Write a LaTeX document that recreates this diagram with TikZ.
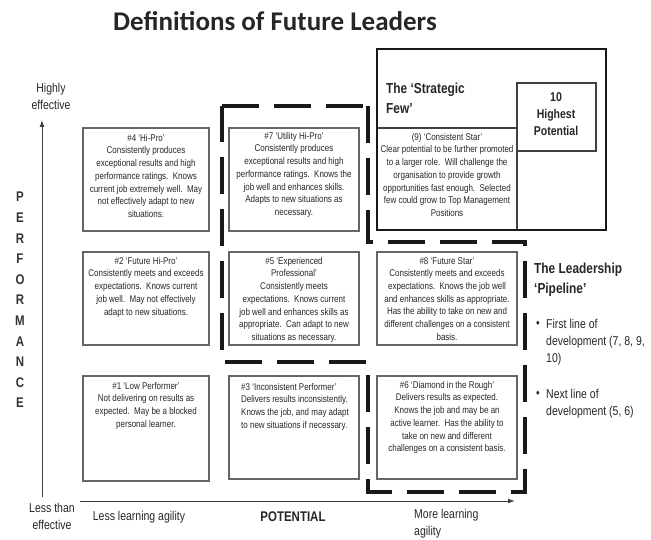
\documentclass[tikz,border=0pt]{standalone}
\usepackage{fontspec}
\setmainfont{Liberation Sans}
\newfontfamily\nar[FakeStretch=0.82]{Liberation Sans}
\newfontfamily\titlefont{Carlito}
\usetikzlibrary{arrows.meta}
\begin{document}
\begin{tikzpicture}[x=1pt,y=-1pt,
  cellbox/.style={draw=black!60, line width=1.2pt},
  celltext/.style={font=\nar\fontsize{9.75}{12.7}\selectfont, text=black!85, align=center, anchor=north, inner sep=0pt},
  pipe/.style={line width=4pt, dash pattern=on 37pt off 15pt, black!90},
  axis/.style={line width=1pt, black!75, -{Latex[length=7pt,width=5pt]}},
  lab/.style={font=\nar\fontsize{12.8}{17}\selectfont, text=black!85, inner sep=0pt},
  head/.style={font=\nar\bfseries\fontsize{14.5}{20}\selectfont, text=black!85, inner sep=0pt}]
\useasboundingbox (0,0) rectangle (651,540);

% title
\node[font=\titlefont\bfseries\fontsize{27}{30}\selectfont, text=black!85, inner sep=0pt] (title) at (275,21) {Definitions of Future Leaders};

% axes
\coordinate (yb) at (42,497); \coordinate (yt) at (42,120);
\coordinate (xl) at (80,501); \coordinate (xr) at (515,501);
\draw[axis] (yb) -- (yt);
\draw[axis] (xl) -- (xr);
\node[lab, align=center] (hi) at (51,96) {Highly\\effective};
\node[lab, align=center] (lt) at (52,516) {Less than\\effective};
\node[font=\nar\bfseries\fontsize{14}{20.6}\selectfont, text=black!80, align=center, inner sep=0pt] (perf) at (20,300) {P\\E\\R\\F\\O\\R\\M\\A\\N\\C\\E};
\node[lab] (lla) at (139,517) {Less learning agility};
\node[lab, font=\nar\bfseries\fontsize{14}{17}\selectfont] (pot) at (293,517) {POTENTIAL};
\node[lab, align=left, anchor=west] (mla) at (414,524) {More learning\\agility};

% cells
\draw[cellbox] (83,128) rectangle (209,231);
\node[celltext] (t4) at (146,134) {\#4 ‘Hi-Pro’\\Consistently produces\\exceptional results and high\\performance ratings.\ \ Knows\\current job extremely well.\ \ May\\not effectively adapt to new\\situations.};
\draw[cellbox] (229,128) rectangle (359,231);
\node[celltext] (t7) at (294,132) {\#7 ‘Utility Hi-Pro’\\Consistently produces\\exceptional results and high\\performance ratings.\ \ Knows the\\job well and enhances skills.\\Adapts to new situations as\\necessary.};
\draw[cellbox] (83,252) rectangle (209,345);
\node[celltext] (t2) at (146,257) {\#2 ‘Future Hi-Pro’\\Consistently meets and exceeds\\expectations.\ \ Knows current\\job well.\ \ May not effectively\\adapt to new situations.};
\draw[cellbox] (229,252) rectangle (359,345);
\node[celltext] (t5) at (294,257) {\#5 ‘Experienced\\Professional’\\Consistently meets\\expectations.\ \ Knows current\\job well and enhances skills as\\appropriate.\ \ Can adapt to new\\situations as necessary.};
\draw[cellbox] (377,252) rectangle (517,345);
\node[celltext] (t8) at (447,257) {\#8 ‘Future Star’\\Consistently meets and exceeds\\expectations.\ \ Knows the job well\\and enhances skills as appropriate.\\Has the ability to take on new and\\different challenges on a consistent\\basis.};
\draw[cellbox] (83,376) rectangle (209,481);
\node[celltext] (t1) at (146,382) {\#1 ‘Low Performer’\\Not delivering on results as\\expected.\ \ May be a blocked\\personal learner.};
\draw[cellbox] (229,376) rectangle (359,479);
\node[celltext, align=left, anchor=north west] (t3) at (241,383) {\#3 ‘Inconsistent Performer’\\Delivers results inconsistently.\\Knows the job, and may adapt\\to new situations if necessary.};
\draw[cellbox] (377,376) rectangle (517,479);
\node[celltext] (t6) at (447,381) {\#6 ‘Diamond in the Rough’\\Delivers results as expected.\\Knows the job and may be an\\active learner.\ \ Has the ability to\\take on new and different\\challenges on a consistent basis.};

% strategic few
\draw[line width=1.2pt, black!75] (377,128) -- (517,128);
\draw[line width=1.2pt, black!75] (517,83) -- (517,230);
\draw[line width=1.2pt, black!75] (517,83) rectangle (596,151);
\draw[line width=2.5pt, black!90] (377,49) rectangle (606,230);
\node[head, align=left, anchor=west] (sf) at (386,98) {The ‘Strategic\\Few’};
\node[head, align=center, font=\nar\bfseries\fontsize{12.8}{17}\selectfont] (ten) at (556,114) {10\\Highest\\Potential};
\node[celltext] (t9) at (447,133) {(9) ‘Consistent Star’\\Clear potential to be further promoted\\to a larger role.\ \ Will challenge the\\organisation to provide growth\\opportunities fast enough.\ \ Selected\\few could grow to Top Management\\Positions};

% pipeline dashes
\draw[pipe] (222,106) -- (377,106);
\draw[pipe] (368,106) -- (368,242) -- (525,242) -- (525,492) -- (368,492) -- (368,362) -- (222,362) -- (222,106);

% pipeline text
\node[head, align=left, anchor=west] (lp) at (534,280) {The Leadership\\‘Pipeline’};
\node[lab] (b1) at (538,325) {•};
\node[lab, align=left, anchor=west] (p1) at (546,342.5) {First line of\\development (7, 8, 9,\\10)};
\node[lab] (b2) at (538,395) {•};
\node[lab, align=left, anchor=west] (p2) at (546,404) {Next line of\\development (5, 6)};
\end{tikzpicture}
\end{document}
